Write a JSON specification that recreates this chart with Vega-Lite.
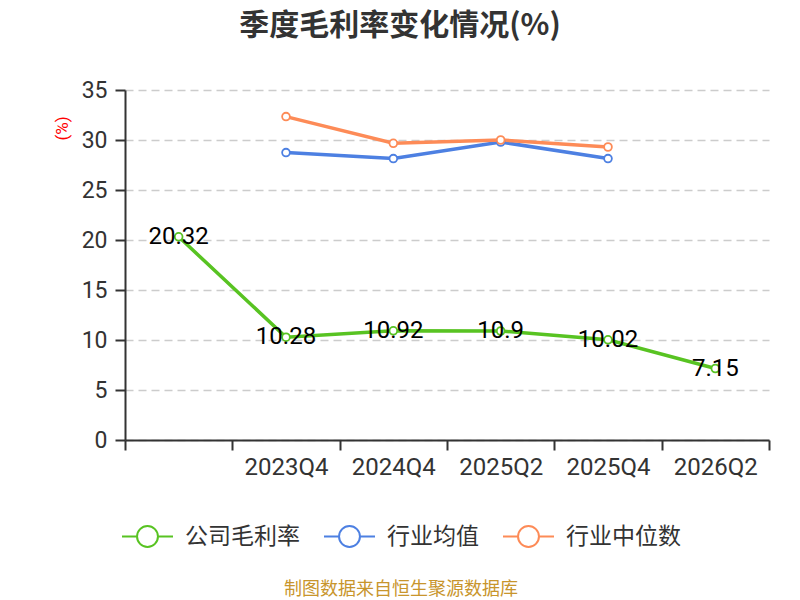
{
  "$schema": "https://vega.github.io/schema/vega-lite/v6.json",
  "autosize": "none",
  "width": 644,
  "height": 350,
  "padding": {"left": 125, "top": 90, "right": 31, "bottom": 160},
  "background": "white",
  "title": {
    "text": "季度毛利率变化情况(%)",
    "font": "Noto Sans CJK SC",
    "fontSize": 30,
    "fontWeight": "bold",
    "color": "#333333",
    "anchor": "middle",
    "frame": "group",
    "dx": -47,
    "offset": 38
  },
  "config": {
    "view": {"stroke": null},
    "font": "Roboto"
  },
  "data": {
    "values": [
      {"quarter": " ", "series": "公司毛利率", "value": 20.32},
      {"quarter": "2023Q4", "series": "公司毛利率", "value": 10.28},
      {"quarter": "2024Q4", "series": "公司毛利率", "value": 10.92},
      {"quarter": "2025Q2", "series": "公司毛利率", "value": 10.9},
      {"quarter": "2025Q4", "series": "公司毛利率", "value": 10.02},
      {"quarter": "2026Q2", "series": "公司毛利率", "value": 7.15},
      {"quarter": "2023Q4", "series": "行业均值", "value": 28.74},
      {"quarter": "2024Q4", "series": "行业均值", "value": 28.14},
      {"quarter": "2025Q2", "series": "行业均值", "value": 29.8},
      {"quarter": "2025Q4", "series": "行业均值", "value": 28.14},
      {"quarter": "2023Q4", "series": "行业中位数", "value": 32.34},
      {"quarter": "2024Q4", "series": "行业中位数", "value": 29.67},
      {"quarter": "2025Q2", "series": "行业中位数", "value": 30.0},
      {"quarter": "2025Q4", "series": "行业中位数", "value": 29.3}
    ]
  },
  "encoding": {
    "x": {
      "field": "quarter",
      "type": "nominal",
      "sort": null,
      "scale": {
        "domain": [" ", "2023Q4", "2024Q4", "2025Q2", "2025Q4", "2026Q2"],
        "paddingInner": 0,
        "paddingOuter": 0
      },
      "axis": {
        "title": null,
        "labelAngle": 0,
        "labelFont": "Roboto",
        "labelFontSize": 24,
        "labelColor": "#333333",
        "labelPadding": 5,
        "tickBand": "extent",
        "tickSize": 10,
        "tickWidth": 2,
        "tickColor": "#333333",
        "domainColor": "#333333",
        "domainWidth": 2,
        "grid": false
      }
    },
    "y": {
      "field": "value",
      "type": "quantitative",
      "scale": {"domain": [0, 35], "nice": false},
      "axis": {
        "title": "(%)",
        "titleColor": "#ff0000",
        "titleFontSize": 17,
        "titleFontWeight": "normal",
        "titleFont": "Roboto",
        "titleAlign": "center",
        "titleBaseline": "middle",
        "titleX": -63,
        "titleY": 38,
        "values": [0, 5, 10, 15, 20, 25, 30, 35],
        "labelFont": "Roboto",
        "labelFontSize": 23,
        "labelColor": "#333333",
        "labelPadding": 8,
        "tickSize": 10,
        "tickWidth": 2,
        "tickColor": "#333333",
        "domainColor": "#333333",
        "domainWidth": 2,
        "gridColor": "#cccccc",
        "gridDash": [8, 5],
        "gridWidth": 1.5
      }
    },
    "color": {
      "field": "series",
      "type": "nominal",
      "scale": {
        "domain": ["公司毛利率", "行业均值", "行业中位数"],
        "range": ["#58c322", "#4d80e2", "#fd8b57"]
      },
      "legend": {
        "title": "制图数据来自恒生聚源数据库",
        "titleOrient": "bottom",
        "titleAnchor": "middle",
        "titleFont": "Noto Sans CJK SC",
        "titleFontSize": 18,
        "titleFontWeight": "normal",
        "titleColor": "#c8952c",
        "titlePadding": 30,
        "titleLimit": 600,
        "orient": "none",
        "legendX": -4,
        "legendY": 420,
        "direction": "horizontal",
        "columns": 3,
        "columnPadding": 20,
        "symbolType": "M-1,0H-0.41A0.41,0.41 0 1,1 0.41,0A0.41,0.41 0 1,1 -0.41,0M0.41,0H1",
        "symbolSize": 2601,
        "symbolStrokeWidth": 2,
        "symbolFillColor": "#ffffff",
        "symbolOpacity": 1,
        "labelFont": "Noto Sans CJK SC",
        "labelFontSize": 23,
        "labelColor": "#333333",
        "labelOffset": 11,
        "labelLimit": 200,
        "encode": {
          "symbols": {
            "update": {
              "fill": {"value": "#ffffff"},
              "stroke": {"scale": "color", "field": "value"},
              "strokeWidth": {"value": 2},
              "opacity": {"value": 1}
            }
          }
        }
      }
    }
  },
  "layer": [
    {
      "mark": {"type": "line", "strokeWidth": 3.5}
    },
    {
      "mark": {
        "type": "point",
        "shape": "circle",
        "filled": false,
        "opacity": 1,
        "size": 60,
        "strokeWidth": 1.8
      },
      "encoding": {
        "fill": {"value": "#ffffff"}
      }
    },
    {
      "transform": [{"filter": "datum.series === '公司毛利率'"}],
      "mark": {
        "type": "text",
        "font": "Roboto",
        "fontSize": 24,
        "align": "center",
        "baseline": "middle"
      },
      "encoding": {
        "text": {"field": "value", "type": "nominal"},
        "color": {"value": "#000000"}
      }
    }
  ]
}
